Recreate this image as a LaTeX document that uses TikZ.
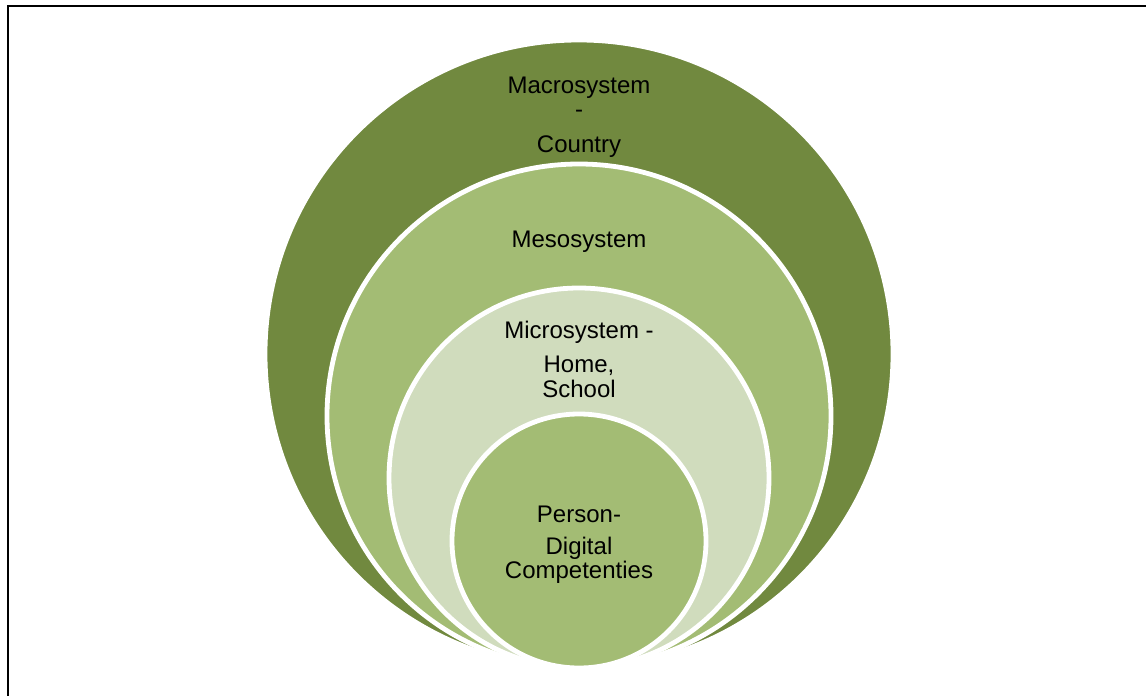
\documentclass[tikz,border=0pt]{standalone}
\usepackage{fontspec}
\setmainfont{Liberation Sans}
\definecolor{macroC}{HTML}{71893F}
\definecolor{mesoC}{HTML}{A3BC74}
\definecolor{microC}{HTML}{D0DCBD}
\definecolor{personC}{HTML}{A3BC74}
\begin{document}
\begin{tikzpicture}[x=0.75pt,y=-0.75pt,
  ring/.style={draw=white,line width=3.6pt},
  lbl/.style={anchor=base,inner sep=0pt,font=\fontsize{18pt}{21pt}\selectfont}]
\useasboundingbox (0,0) rectangle (1146,696);
\fill[white] (0,0) rectangle (1146,696);
\draw[line width=1.6pt] (8,710) |- (1160,6);
\path[ring,fill=macroC] (579,354) circle[radius=314];
\path[ring,fill=mesoC] (579,416) circle[radius=252];
\path[ring,fill=microC] (579,478) circle[radius=190];
\path[ring,fill=personC] (579,541) circle[radius=127];
\node[lbl] (macA) at (579,93) {Macrosystem};
\node[lbl] (macB) at (579,117) {-};
\node[lbl] (macC) at (579,152) {Country};
\node[lbl] (meso) at (579,247) {Mesosystem};
\node[lbl] (micA) at (579,338) {Microsystem -};
\node[lbl] (micB) at (579,372) {Home,};
\node[lbl] (micC) at (579,397) {School};
\node[lbl] (perA) at (579,522) {Person-};
\node[lbl] (perB) at (579,554) {Digital};
\node[lbl] (perC) at (579,578) {Competenties};
\end{tikzpicture}
\end{document}
